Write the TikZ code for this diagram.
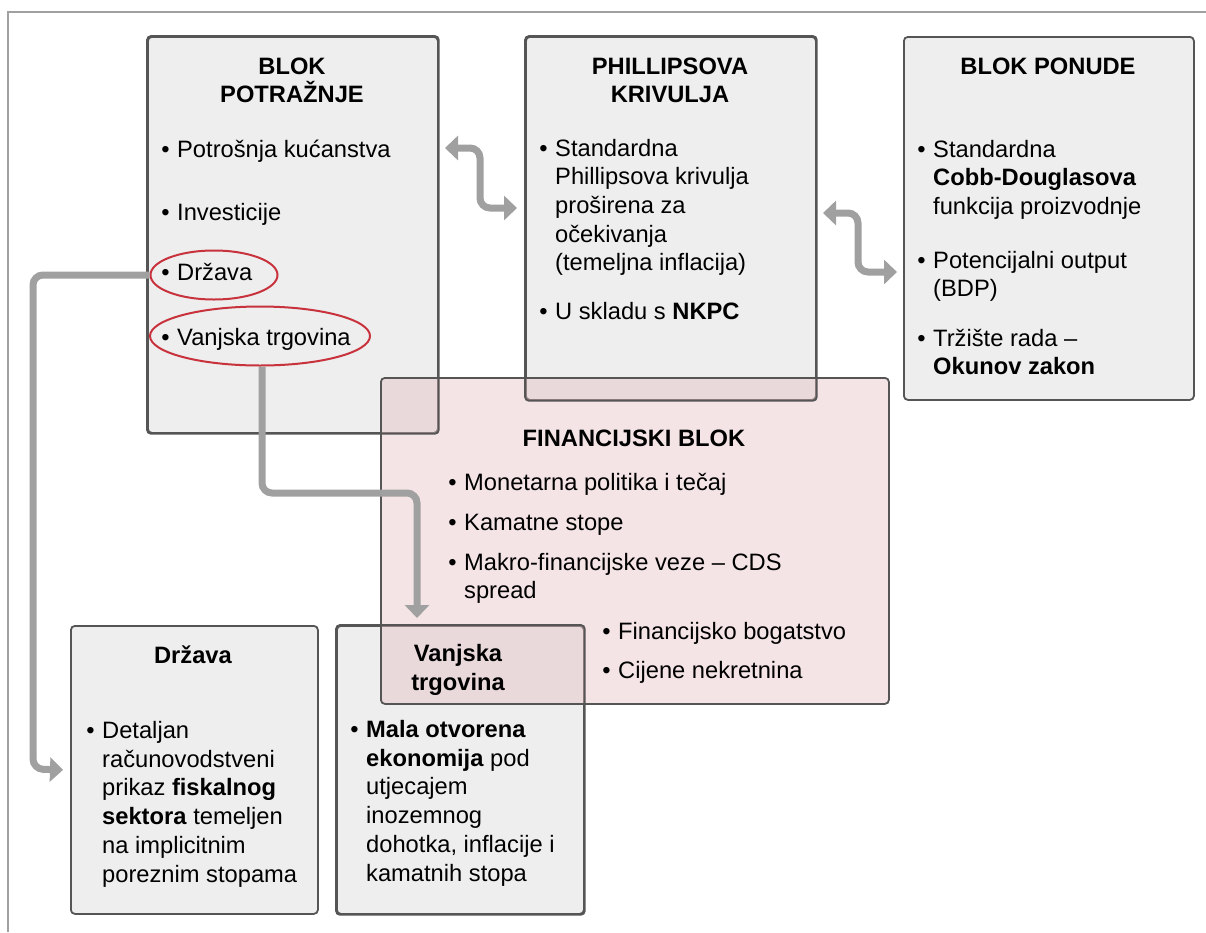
\documentclass[tikz,border=0pt]{standalone}
\usepackage{fontspec}
\setmainfont{Liberation Sans}
\usetikzlibrary{shapes.geometric,arrows.meta,positioning}
\definecolor{okvir}{HTML}{555555}
\definecolor{sivo}{HTML}{EEEEEE}
\definecolor{roza}{RGB}{230,189,194}
\definecolor{strel}{HTML}{A0A0A0}
\definecolor{crv}{HTML}{C8323C}
\newcommand{\tck}{\llap{\textbullet\hspace{7.5pt}}}
\tikzstyle{blok} = [draw=okvir,line width=1.8pt,fill=sivo,rounded corners=4pt,rectangle,anchor=north west,inner sep=0pt]
\tikzstyle{finblok} = [blok,fill=roza,fill opacity=0.41]
\tikzstyle{rub} = [draw=okvir,line width=1.8pt,rounded corners=4pt]
\tikzstyle{naslov} = [font=\bfseries\fontsize{23.7}{28.5}\selectfont,align=center,anchor=base,inner sep=0pt]
\tikzstyle{stavka} = [font=\fontsize{23.7}{28.7}\selectfont,align=left,anchor=base west,inner sep=0pt]
\tikzstyle{krug} = [draw=crv,line width=2pt,ellipse,inner sep=0pt]
\tikzstyle{veza} = [draw=strel,line width=7pt,rounded corners=10pt,-{Triangle[length=13pt,width=24pt]}]
\tikzstyle{dveza} = [veza,{Triangle[length=13pt,width=24pt]}-{Triangle[length=13pt,width=24pt]}]

\begin{document}
\begin{tikzpicture}[x=1pt,y=-1pt]
  \useasboundingbox (0,0) rectangle (1206,932);
  %frame
  \draw[strel,line width=2pt] (8,932) -- (8,12) -- (1206,12);

  %blocks
  \node[blok,minimum width=290pt,minimum height=396pt] (pot) at (147,36) {};
  \node[blok,minimum width=290pt,minimum height=363pt] (phi) at (525,36) {};
  \node[blok,minimum width=290pt,minimum height=363pt] (pon) at (903,36) {};
  \node[blok,minimum width=247pt,minimum height=288pt] (drz) at (70,625) {};
  \node[blok,minimum width=247pt,minimum height=288pt] (van) at (336,625) {};

  %financijski blok
  \node[finblok,minimum width=508pt,minimum height=326pt] (fin) at (380,377) {};
  \draw[rub] (pot.north west) rectangle (pot.south east);
  \draw[rub] (phi.north west) rectangle (phi.south east);
  \draw[rub] (van.north west) rectangle (van.south east);

  %potraznja (base = last line)
  \node[naslov] (potN) at (292,102.5) {BLOK\\POTRAŽNJE};
  \node[stavka] (pot1) at (177,157) {\tck Potrošnja kućanstva};
  \node[stavka] (pot2) at (177,220) {\tck Investicije};
  \node[stavka] (pot3) at (177,280) {\tck Država};
  \node[stavka] (pot4) at (177,345) {\tck Vanjska trgovina};
  \node[krug,minimum width=127pt,minimum height=49pt] (elDrz) at (214,275) {};
  \node[krug,minimum width=220pt,minimum height=59pt] (elVan) at (260,336) {};

  %Phillips
  \node[naslov] (phiN) at (670,102.5) {PHILLIPSOVA\\KRIVULJA};
  \node[stavka] (phi1) at (555,270.8) {\tck Standardna\\Phillipsova krivulja\\proširena za\\očekivanja\\(temeljna inflacija)};
  \node[stavka] (phi2) at (555,319.5) {\tck U skladu s \textbf{NKPC}};

  %ponuda
  \node[naslov] (ponN) at (1048,74) {BLOK PONUDE};
  \node[stavka] (pon1) at (933,214.4) {\tck Standardna\\\textbf{Cobb-Douglasova}\\funkcija proizvodnje};
  \node[stavka] (pon2) at (933,296.7) {\tck Potencijalni output\\(BDP)};
  \node[stavka] (pon3) at (933,374.7) {\tck Tržište rada --\\\textbf{Okunov zakon}};

  %financije
  \node[naslov] (finN) at (634,446) {FINANCIJSKI BLOK};
  \node[stavka] (fin1) at (464,490) {\tck Monetarna politika i tečaj};
  \node[stavka] (fin2) at (464,530) {\tck Kamatne stope};
  \node[stavka] (fin3) at (464,598.7) {\tck Makro-financijske veze -- CDS\\spread};
  \node[stavka] (fin4) at (618,639) {\tck Financijsko bogatstvo};
  \node[stavka] (fin5) at (618,678) {\tck Cijene nekretnina};

  %drzava
  \node[naslov] (drzN) at (193,663) {Država};
  \node[stavka] (drz1) at (102,882) {\tck Detaljan\\računovodstveni\\prikaz \textbf{fiskalnog}\\\textbf{sektora} temeljen\\na implicitnim\\poreznim stopama};

  %vanjska trgovina
  \node[naslov] (vanN) at (458,690) {Vanjska\\trgovina};
  \node[stavka] (van1) at (366,881) {\tck \textbf{Mala otvorena}\\\textbf{ekonomija} pod\\utjecajem\\inozemnog\\dohotka, inflacije i\\kamatnih stopa};

  %arrows
  \coordinate (a1) at (445,148);
  \coordinate (a2) at (480,208);
  \coordinate (a3) at (517,208);
  \draw[dveza] (a1) -| (a2) -- (a3);
  \coordinate (b1) at (823,213);
  \coordinate (b2) at (858,272);
  \coordinate (b3) at (897,272);
  \draw[dveza] (b1) -| (b2) -- (b3);

  \coordinate (d1) at (33,769);
  \draw[veza] (elDrz.west) -| (d1) -- ([xshift=-7pt]drz.west);
  \coordinate (v1) at (417,493);
  \coordinate (v2) at (417,618);
  \draw[veza] ([xshift=2pt]elVan.south) |- (v1) -- (v2);

\end{tikzpicture}
\end{document}
